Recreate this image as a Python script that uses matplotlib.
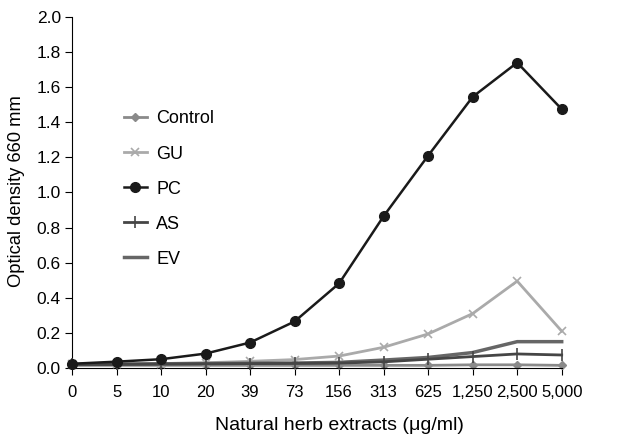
import numpy as np
import matplotlib
matplotlib.use("Agg")
import matplotlib.pyplot as plt

plt.rcParams["font.family"] = ["Liberation Sans", "DejaVu Sans"]

# ── data ───────────────────────────────────────────────────────────────────────
doses   = ["0", "5", "10", "20", "39", "73", "156", "313", "625",
           "1,250", "2,500", "5,000"]
control = [0.015, 0.015, 0.015, 0.015, 0.015, 0.015, 0.015, 0.015, 0.015,
           0.018, 0.018, 0.015]
gu      = [0.02, 0.022, 0.025, 0.03, 0.038, 0.048, 0.068, 0.118, 0.194,
           0.31, 0.495, 0.21]
pc      = [0.024, 0.036, 0.05, 0.082, 0.145, 0.265, 0.482, 0.865, 1.21,
           1.545, 1.74, 1.475]
as_     = [0.02, 0.02, 0.022, 0.024, 0.025, 0.026, 0.028, 0.035, 0.05,
           0.065, 0.08, 0.074]
ev      = [0.02, 0.022, 0.024, 0.025, 0.027, 0.028, 0.032, 0.045, 0.06,
           0.088, 0.15, 0.15]

x = np.arange(len(doses))

fig = plt.figure(figsize=(6.23, 4.36), dpi=100)
ax  = fig.add_axes([0.1156, 0.156, 0.786, 0.805])

ax.plot(x, control, color="#8a8a8a", linewidth=2.0, marker="D", markersize=4,
        label="Control", zorder=2, clip_on=False)
ax.plot(x, gu, color="#aaaaaa", linewidth=2.0, marker="x", markersize=6,
        markeredgewidth=1.2, label="GU", zorder=3, clip_on=False)
ax.plot(x, pc, color="#1a1a1a", linewidth=1.8, marker="o", markersize=7,
        label="PC", zorder=5, clip_on=False)
ax.plot(x, as_, color="#454545", linewidth=2.0, marker="|", markersize=9,
        markeredgewidth=1.2, label="AS", zorder=4, clip_on=False)
ax.plot(x, ev, color="#666666", linewidth=2.5, label="EV", zorder=3,
        clip_on=False)

ax.set_xlim(0, len(doses) - 1)
ax.set_ylim(0, 2.0)
ax.set_xticks(x)
ax.set_xticklabels(doses)
yt = np.arange(0, 2.01, 0.2)
ax.set_yticks(yt)
ax.set_yticklabels([f"{v:.1f}" for v in yt])
ax.tick_params(direction="out", length=5, labelsize=12.5, pad=3)
ax.tick_params(axis="x", labelsize=12, pad=7)

for s in ["top", "right"]:
    ax.spines[s].set_visible(False)

ax.set_xlabel("Natural herb extracts (\u03bcg/ml)", fontsize=14)
ax.xaxis.set_label_coords(0.547, -0.14)
ax.set_ylabel("Optical density 660 mm", fontsize=13.25)
ax.yaxis.set_label_coords(-0.097, 0.503)

ax.legend(loc="upper left", bbox_to_anchor=(0.072, 0.78), frameon=False,
          fontsize=13, handlelength=1.3, labelspacing=1.0, handletextpad=0.5)

fig.savefig("out.png", dpi=100)
